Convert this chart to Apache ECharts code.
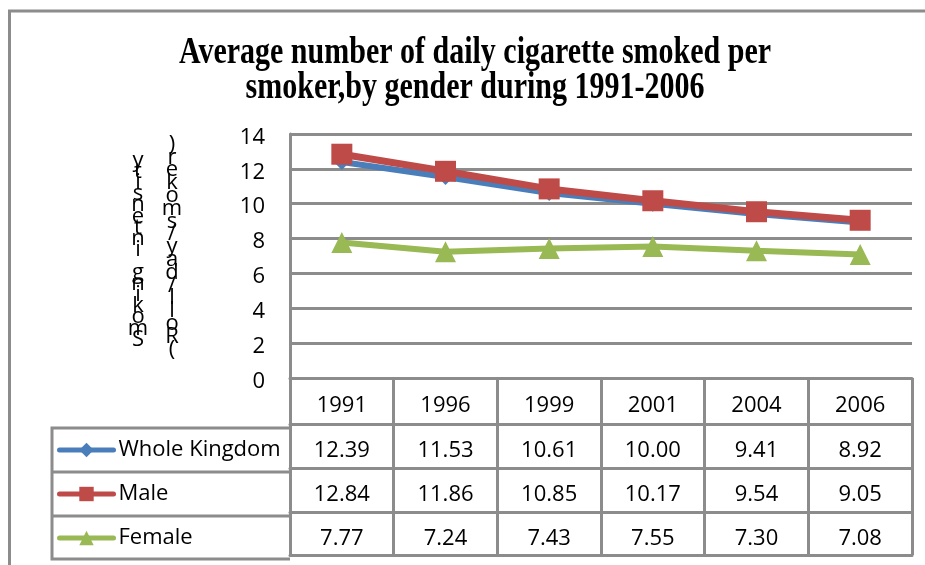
<!DOCTYPE html>
<html>
<head>
<meta charset="utf-8">
<script src="https://cdn.jsdelivr.net/npm/echarts@6/dist/echarts.min.js"></script>
<style>html,body{margin:0;padding:0;background:#fff}#c{width:925px;height:565px}</style>
</head>
<body>
<div id="c"></div>
<script>
var titleLines = ['Average number of daily cigarette smoked per', 'smoker,by gender during 1991-2006'];
var yAxisTitle1 = 'Smoking intensity';
var yAxisTitle2 = '(Roll/day/smoker)';
var years = ['1991', '1996', '1999', '2001', '2004', '2006'];
var seriesNames = ['Whole Kingdom', 'Male', 'Female'];
var wholeKingdom = [12.39, 11.53, 10.61, 10.00, 9.41, 8.92];
var male = [12.84, 11.86, 10.85, 10.17, 9.54, 9.05];
var female = [7.77, 7.24, 7.43, 7.55, 7.30, 7.08];
var yTicks = { min: 0, max: 14, interval: 2 };

var GRAY = '#8c8c8c';
var COLORS = ['#4A7EBB', '#BE4B48', '#98B954'];
var FONT = '"Open Sans", "Liberation Sans", sans-serif';
var chart = echarts.init(document.getElementById('c'));

function vertical(s) { return s.split('').reverse().join('\n'); }

function tableAxis(data, offset, tickLen, margin) {
  return {
    type: 'category', gridIndex: 0, position: 'bottom', offset: offset,
    data: data, boundaryGap: true,
    axisLine: { show: true, lineStyle: { color: GRAY, width: 3 } },
    axisTick: { show: tickLen > 0, interval: 0, length: tickLen, lineStyle: { color: GRAY, width: 3 } },
    axisLabel: { show: true, interval: 0, margin: margin, verticalAlign: 'middle',
      fontSize: 22, fontFamily: FONT, color: '#000' },
    splitLine: { show: false }
  };
}
function fmt(a) { return a.map(function (v) { return v.toFixed(2); }); }

var option = {
  animation: false,
  backgroundColor: '#fff',
  grid: { left: 290, right: 13, top: 134, bottom: 183, containLabel: false },
  legend: {
    orient: 'vertical', left: 57, top: 439, padding: 0,
    itemWidth: 54, itemHeight: 18, itemGap: 22,
    data: seriesNames.map(function (n, i) {
      return { name: n, lineStyle: { width: 5, cap: 'round', color: COLORS[i] } };
    }),
    textStyle: { fontSize: 22, fontFamily: FONT, color: '#000' }
  },
  xAxis: [
    tableAxis(years, 0, 46, 28),
    tableAxis(fmt(wholeKingdom), 46, 44, 27),
    tableAxis(fmt(male), 90, 44, 27),
    tableAxis(fmt(female), 134, 43, 27),
    tableAxis(years.map(function () { return ''; }), 177, 0, 10)
  ],
  yAxis: {
    type: 'value', min: yTicks.min, max: yTicks.max, interval: yTicks.interval,
    axisLine: { show: true, lineStyle: { color: GRAY, width: 3 } },
    axisTick: { show: false },
    axisLabel: { margin: 25, color: '#000', formatter: '{v|{value}}',
      rich: { v: { fontSize: 22, fontFamily: FONT, color: '#000', padding: [7, 0, 0, 0] } } },
    splitLine: { show: true, lineStyle: { color: GRAY, width: 3 } }
  },
  series: [
    { name: seriesNames[0], type: 'line', data: wholeKingdom, xAxisIndex: 0,
      symbol: 'diamond', symbolSize: 16,
      lineStyle: { color: COLORS[0], width: 6 }, itemStyle: { color: COLORS[0] } },
    { name: seriesNames[1], type: 'line', data: male, xAxisIndex: 0,
      symbol: 'rect', symbolSize: 21,
      lineStyle: { color: COLORS[1], width: 7 }, itemStyle: { color: COLORS[1] } },
    { name: seriesNames[2], type: 'line', data: female, xAxisIndex: 0,
      symbol: 'triangle', symbolSize: 21,
      lineStyle: { color: COLORS[2], width: 6 }, itemStyle: { color: COLORS[2] } }
  ],
  graphic: [
    { type: 'polyline', shape: { points: [[9.5, 565], [9.5, 11], [925, 11]] },
      style: { stroke: GRAY, lineWidth: 3, fill: null } },
    { type: 'polyline', shape: { points: [[290, 428], [52, 428], [52, 559], [290, 559]] },
      style: { stroke: GRAY, lineWidth: 3, fill: null } },
    { type: 'line', shape: { x1: 52, y1: 472, x2: 290, y2: 472 }, style: { stroke: GRAY, lineWidth: 3 } },
    { type: 'line', shape: { x1: 52, y1: 516, x2: 290, y2: 516 }, style: { stroke: GRAY, lineWidth: 3 } },
    { type: 'text', x: 475, y: 53, scaleY: 1.25,
      style: { text: titleLines[0], font: 'bold 30px "Liberation Serif", serif', fill: '#000',
        align: 'center', verticalAlign: 'middle' } },
    { type: 'text', x: 475, y: 88, scaleY: 1.25,
      style: { text: titleLines[1], font: 'bold 30px "Liberation Serif", serif', fill: '#000',
        align: 'center', verticalAlign: 'middle' } },
    { type: 'text', x: 138, y: 250,
      style: { text: vertical(yAxisTitle1), fontSize: 22, fontFamily: FONT, lineHeight: 11.2,
        fill: '#000', align: 'center', verticalAlign: 'middle' } },
    { type: 'text', x: 172, y: 247,
      style: { text: vertical(yAxisTitle2), fontSize: 22, fontFamily: FONT, lineHeight: 12.8,
        fill: '#000', align: 'center', verticalAlign: 'middle' } }
  ]
};
chart.setOption(option);
</script>
</body>
</html>
